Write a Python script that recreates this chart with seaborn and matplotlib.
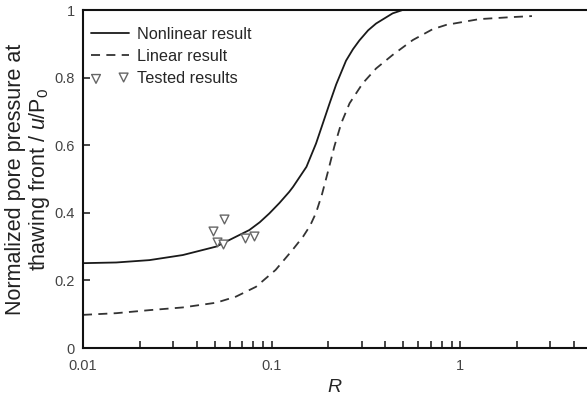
import numpy as np
import pandas as pd
import matplotlib
matplotlib.use('Agg')
import matplotlib.pyplot as plt
import seaborn as sns
from matplotlib.ticker import FixedLocator, FormatStrFormatter, LogLocator, NullFormatter

# Nonlinear result (solid curve)
nl_R = [0.0100, 0.0150, 0.0225, 0.0338, 0.0508, 0.0762, 0.0865, 0.0972,
        0.110, 0.124, 0.130, 0.153, 0.172, 0.187, 0.203, 0.220, 0.248,
        0.270, 0.292, 0.325, 0.358, 0.438, 0.495, 1.0, 4.7]
nl_u = [0.251, 0.253, 0.260, 0.275, 0.300, 0.349, 0.372, 0.398,
        0.429, 0.462, 0.477, 0.536, 0.605, 0.665, 0.724, 0.780, 0.850,
        0.884, 0.910, 0.940, 0.960, 0.990, 1.000, 1.000, 1.000]

# Linear result (dashed curve)
lin_R = [0.0100, 0.0150, 0.0225, 0.0338, 0.0508, 0.0647, 0.0826, 0.105,
         0.129, 0.147, 0.160, 0.172, 0.185, 0.199, 0.215, 0.234, 0.259,
         0.304, 0.358, 0.438, 0.560, 0.713, 0.843, 1.26, 1.88, 2.40]
lin_u = [0.098, 0.103, 0.112, 0.120, 0.134, 0.152, 0.181, 0.231,
         0.290, 0.330, 0.362, 0.400, 0.455, 0.522, 0.596, 0.665, 0.724,
         0.783, 0.827, 0.867, 0.911, 0.943, 0.956, 0.973, 0.979, 0.982]

# Tested results (open triangles)
test_R = [0.0557, 0.0491, 0.0512, 0.0551, 0.0722, 0.0810]
test_u = [0.381, 0.347, 0.315, 0.308, 0.325, 0.331]

sns.set_style('ticks')
plt.rcParams['font.family'] = ['Liberation Sans', 'DejaVu Sans']
plt.rcParams['mathtext.fontset'] = 'custom'
plt.rcParams['mathtext.rm'] = 'Liberation Sans'
plt.rcParams['mathtext.it'] = 'Liberation Sans:italic'

nl_df = pd.DataFrame({'R': nl_R, 'u': nl_u})
lin_df = pd.DataFrame({'R': lin_R, 'u': lin_u})
test_df = pd.DataFrame({'R': test_R, 'u': test_u})

fig = plt.figure(figsize=(5.87, 3.99), dpi=100)
ax = fig.add_axes([83 / 587, 51 / 399, 1 - 83 / 587, 338 / 399])

sns.lineplot(data=nl_df, x='R', y='u', ax=ax, color='#1a1a1a', linewidth=1.3,
             label='Nonlinear result', sort=False)
sns.lineplot(data=lin_df, x='R', y='u', ax=ax, color='#333333', linewidth=1.3,
             dashes=False, linestyle=(0, (5, 3.5)), label='Linear result', sort=False)
sns.scatterplot(data=test_df, x='R', y='u', ax=ax, marker='v', s=40,
                facecolor='white', edgecolor='#666666', linewidth=1.0,
                label='Tested results', zorder=3)

ax.set_xscale('log')
ax.set_xlim(0.01, 4.7)
ax.set_ylim(0, 1)

ax.xaxis.set_major_locator(FixedLocator([0.01, 0.1, 1]))
ax.xaxis.set_major_formatter(FormatStrFormatter('%g'))
ax.xaxis.set_minor_locator(LogLocator(base=10, subs=np.arange(2, 10)))
ax.xaxis.set_minor_formatter(NullFormatter())
ax.yaxis.set_major_locator(FixedLocator([0, 0.2, 0.4, 0.6, 0.8, 1.0]))
ax.yaxis.set_major_formatter(FormatStrFormatter('%g'))

ax.tick_params(axis='both', which='both', direction='in', width=1.2,
               labelsize=10.5, labelcolor='#444444')
ax.tick_params(axis='both', which='major', length=5, pad=6)
ax.tick_params(axis='x', which='minor', length=5)
ax.tick_params(axis='x', which='major', pad=8)

for side in ['left', 'bottom', 'top']:
    ax.spines[side].set_linewidth(1.5)
    ax.spines[side].set_color('#111111')
ax.spines['right'].set_visible(False)

ax.set_xlabel('$\\mathit{R}$', fontsize=14, labelpad=4)
ax.set_ylabel('Normalized pore pressure at\nthawing front / $\\mathit{u}$/P$_0$',
              fontsize=15.5, labelpad=2, color='#222222', linespacing=1.05)

ax.legend(loc='upper left', frameon=False, fontsize=11.7, scatterpoints=2,
          handlelength=2.3, handletextpad=0.55, borderaxespad=0.1,
          labelspacing=0.45, bbox_to_anchor=(0.0, 0.975))

fig.savefig('out.png', dpi=100)
